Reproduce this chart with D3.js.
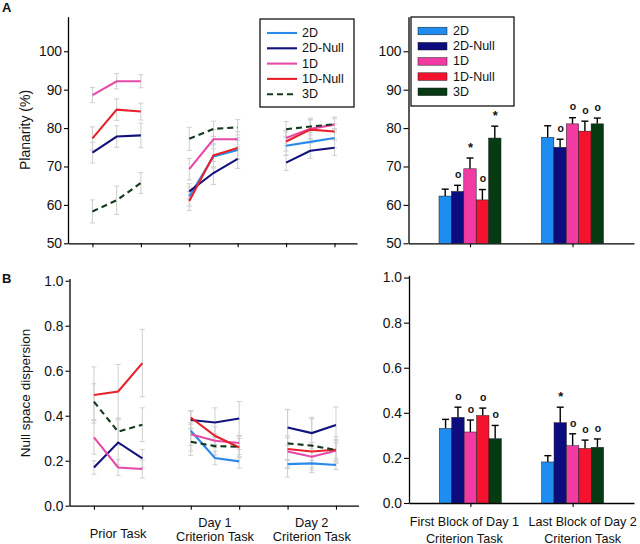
<!DOCTYPE html>
<html><head><meta charset="utf-8">
<script src="https://cdn.jsdelivr.net/npm/d3@7/dist/d3.min.js"></script>
<style>
body{margin:0;background:#fff}
svg text{font-family:"Liberation Sans",Arial,Helvetica,sans-serif;fill:#111}
</style>
</head><body>
<svg id="chart" width="640" height="544"></svg>
<script>
// ---------- data ----------
const seriesNames = ["2D", "2D-Null", "1D", "1D-Null", "3D"];
const barColors  = ["#1e8cf0", "#0c0c7e", "#f23aa3", "#f5122f", "#063a12"];
const lineColors = ["#2a8ae8", "#12127e", "#e64aa8", "#e8222c", "#163a1c"];
const phaseLabels = [["Prior Task"], ["Day 1", "Criterion Task"], ["Day 2", "Criterion Task"]];
const blockLabels = [["First Block of Day 1", "Criterion Task"], ["Last Block of Day 2", "Criterion Task"]];
const planarityTicks = [50, 60, 70, 80, 90, 100];
const dispersionTicks = [0, 0.2, 0.4, 0.6, 0.8, 1.0];
const phaseTickIdx = [0, 2, 4, 6, 8, 10];

// planarity (%) lines: 3 phases x 3 blocks (null = not shown)
const planarity2D     = [null, null, null, 62.2, 72.6, 74.3, 75.4, 76.4, 77.4];
const planarity2DNull = [73.6, 77.8, 78.1, 63.5, 68.3, 72.0, 71.0, 74.1, 74.9];
const planarity1D     = [88.6, 92.2, 92.2, 69.3, 77.1, 77.1, 77.4, 79.8, 80.9];
const planarity1DNull = [77.3, 84.8, 84.3, 61.0, 72.9, 74.8, 76.5, 79.6, 79.1];
const planarity3D     = [58.3, 61.2, 65.7, 77.2, 79.8, 80.2, 79.7, 80.4, 81.0];
const planarityErr2D     = [null, null, null, 2.5, 3.0, 2.5, 2.5, 2.5, 2.5];
const planarityErr2DNull = [2.7, 2.8, 3.2, 2.0, 3.0, 2.5, 2.0, 2.0, 2.0];
const planarityErr1D     = [2.0, 2.0, 1.7, 2.8, 2.5, 2.0, 2.0, 2.5, 2.0];
const planarityErr1DNull = [3.0, 2.8, 2.2, 2.5, 3.0, 2.7, 2.5, 2.5, 2.0];
const planarityErr3D     = [3.0, 3.7, 2.7, 3.0, 2.0, 2.0, 2.0, 2.2, 1.5];

// null space dispersion lines
const dispersion2D     = [null, null, null, 0.333, 0.212, 0.197, 0.185, 0.188, 0.181];
const dispersion2DNull = [0.170, 0.281, 0.210, 0.381, 0.370, 0.388, 0.348, 0.323, 0.359];
const dispersion1D     = [0.304, 0.170, 0.163, 0.318, 0.289, 0.279, 0.241, 0.218, 0.244];
const dispersion1DNull = [0.492, 0.508, 0.634, 0.392, 0.311, 0.259, 0.252, 0.241, 0.249];
const dispersion3D     = [0.462, 0.329, 0.360, 0.284, 0.265, 0.262, 0.277, 0.267, 0.248];
const dispersionErr2D     = [null, null, null, 0.09, 0.03, 0.03, 0.02, 0.03, 0.02];
const dispersionErr2DNull = [0.03, 0.10, 0.04, 0.04, 0.065, 0.075, 0.08, 0.07, 0.08];
const dispersionErr1D     = [0.075, 0.035, 0.04, 0.05, 0.03, 0.03, 0.07, 0.05, 0.05];
const dispersionErr1DNull = [0.125, 0.12, 0.15, 0.03, 0.04, 0.04, 0.05, 0.04, 0.04];
const dispersionErr3D     = [0.08, 0.06, 0.075, 0.06, 0.04, 0.05, 0.15, 0.12, 0.06];

// bar panels (first block of Day 1, last block of Day 2)
const planarityFirst    = [62.3, 63.5, 69.4, 61.3, 77.4];
const planarityLast     = [77.6, 75.0, 81.1, 79.2, 81.1];
const planarityFirstErr = [1.8, 1.6, 2.8, 2.7, 3.1];
const planarityLastErr  = [3.0, 2.1, 1.6, 2.6, 1.5];
const planarityFirstSig = ["", "o", "*", "o", "*"];
const planarityLastSig  = ["", "o", "o", "o", "o"];

const dispersionFirst    = [0.331, 0.380, 0.315, 0.388, 0.285];
const dispersionLast     = [0.182, 0.356, 0.254, 0.242, 0.247];
const dispersionFirstErr = [0.040, 0.045, 0.053, 0.033, 0.059];
const dispersionLastErr  = [0.028, 0.069, 0.053, 0.037, 0.037];
const dispersionFirstSig = ["", "o", "o", "o", "o"];
const dispersionLastSig  = ["", "*", "o", "o", "o"];

// ---------- drawing ----------
const svg = d3.select("#chart");
const FONT = "Liberation Sans, Arial, sans-serif";

function yAxis(g, scale, ticks, fmt, size) {
  g.call(d3.axisLeft(scale).tickValues(ticks).tickFormat(fmt).tickSize(size).tickSizeOuter(0).tickPadding(2));
  g.select(".domain").attr("stroke", "#000").attr("stroke-width", 1.3);
  g.selectAll(".tick line").attr("stroke", "#000").attr("stroke-width", 1.1);
  g.selectAll(".tick text").attr("font-size", 13.8).attr("font-family", FONT).attr("fill", "#111");
}
function xAxis(g, scale, ticks) {
  const ax = d3.axisBottom(scale).tickSize(4).tickSizeOuter(0).tickFormat("");
  if (ticks) ax.tickValues(ticks);
  g.call(ax);
  g.select(".domain").attr("stroke", "#000").attr("stroke-width", 1.3);
  g.selectAll(".tick line").attr("stroke", "#000").attr("stroke-width", 1.1);
}

function linePanel(opt) {
  const { x, y, series, errs, yTicks, fmt, axisY, left } = opt;
  const g = svg.append("g");
  g.append("g").attr("transform", `translate(${left},0)`).call(a => yAxis(a, y, yTicks, fmt, 4));
  g.append("g").attr("transform", `translate(0,${axisY})`).call(a => xAxis(a, x, phaseTickIdx));
  const pos = (i) => Math.floor(i / 3) * 4 + (i % 3);
  // error bars
  series.forEach((vals, s) => {
    vals.forEach((v, i) => {
      if (v == null) return;
      const e = errs[s][i], cx = x(pos(i));
      g.append("line").attr("x1", cx).attr("x2", cx).attr("y1", y(v - e)).attr("y2", y(v + e))
        .attr("stroke", "#cfcfcf").attr("stroke-width", 1);
      [v - e, v + e].forEach(t => g.append("line").attr("x1", cx - 2.5).attr("x2", cx + 2.5)
        .attr("y1", y(t)).attr("y2", y(t)).attr("stroke", "#cfcfcf").attr("stroke-width", 1));
    });
  });
  const line = d3.line().x(d => x(d.p)).y(d => y(d.v));
  series.forEach((vals, s) => {
    for (let p = 0; p < 3; p++) {
      const pts = [];
      for (let b = 0; b < 3; b++) {
        const v = vals[p * 3 + b];
        if (v != null) pts.push({ p: pos(p * 3 + b), v });
      }
      if (pts.length < 2) continue;
      g.append("path").attr("d", line(pts)).attr("fill", "none")
        .attr("stroke", lineColors[s]).attr("stroke-width", 2.1)
        .attr("stroke-dasharray", s === 4 ? "6,4" : null);
    }
  });
  return g;
}

function barPanel(opt) {
  const { y, groups, vals, errs, sigs, yTicks, fmt, axisY, left, right, base } = opt;
  const g = svg.append("g");
  const gx = d3.scalePoint().domain(groups).range([left, right]).padding(0.6);
  const inner = d3.scaleBand().domain(seriesNames).range([-31, 31]);
  g.append("g").attr("transform", `translate(${left},0)`).call(a => yAxis(a, y, yTicks, fmt, 5));
  g.append("g").attr("transform", `translate(0,${axisY})`).call(a => xAxis(a, gx));
  groups.forEach((grp, gi) => {
    seriesNames.forEach((s, si) => {
      const v = vals[gi][si], e = errs[gi][si];
      const x0 = gx(grp) + inner(s), w = inner.bandwidth(), cx = x0 + w / 2;
      g.append("line").attr("x1", cx).attr("x2", cx).attr("y1", y(v)).attr("y2", y(v + e))
        .attr("stroke", "#000").attr("stroke-width", 1.4);
      g.append("line").attr("x1", cx - 3.5).attr("x2", cx + 3.5).attr("y1", y(v + e)).attr("y2", y(v + e))
        .attr("stroke", "#000").attr("stroke-width", 1.4);
      g.append("rect").attr("x", x0).attr("width", w).attr("y", y(v)).attr("height", y(base) - y(v))
        .attr("fill", barColors[si]).attr("stroke", "#1a1a1a").attr("stroke-width", 0.5);
      const sig = sigs[gi][si];
      if (sig) {
        g.append("text").attr("x", cx + 0.5).attr("y", y(v + e) - (sig === "*" ? 6 : 10))
          .attr("text-anchor", "middle").attr("font-family", FONT)
          .attr("font-size", sig === "*" ? 13 : 10.5).attr("font-weight", "bold")
          .attr("dominant-baseline", sig === "*" ? "auto" : "middle")
          .text(sig);
      }
    });
  });
  return gx;
}

// ---- Panel A ----
const xTop = d3.scaleLinear().domain([-1.01, 10.93]).range([68, 357]);
const yTop = d3.scaleLinear().domain([50, 109]).range([243.3, 16.7]);
linePanel({
  x: xTop, y: yTop, axisY: 243.3, left: 68,
  series: [planarity2D, planarity2DNull, planarity1D, planarity1DNull, planarity3D],
  errs: [planarityErr2D, planarityErr2DNull, planarityErr1D, planarityErr1DNull, planarityErr3D],
  yTicks: planarityTicks, fmt: d3.format("d")
});
const yTopR = d3.scaleLinear().domain([50, 109]).range([243.3, 16.7]);
const groupsR = blockLabels.map(d => d.join(" "));
barPanel({
  y: yTopR, groups: groupsR, axisY: 243.3, left: 408.5, right: 634, base: 50,
  vals: [planarityFirst, planarityLast], errs: [planarityFirstErr, planarityLastErr],
  sigs: [planarityFirstSig, planarityLastSig], yTicks: planarityTicks, fmt: d3.format("d")
});

// ---- Panel B ----
const xBot = d3.scaleLinear().domain([-1.01, 10.93]).range([69.5, 358.5]);
const yBot = d3.scaleLinear().domain([0, 1.01]).range([505.7, 278.5]);
linePanel({
  x: xBot, y: yBot, axisY: 505.7, left: 69.5,
  series: [dispersion2D, dispersion2DNull, dispersion1D, dispersion1DNull, dispersion3D],
  errs: [dispersionErr2D, dispersionErr2DNull, dispersionErr1D, dispersionErr1DNull, dispersionErr3D],
  yTicks: dispersionTicks, fmt: d3.format(".1f")
});
const yBotR = d3.scaleLinear().domain([0, 1.01]).range([503, 275.3]);
const gxB = barPanel({
  y: yBotR, groups: groupsR, axisY: 503, left: 409, right: 634, base: 0,
  vals: [dispersionFirst, dispersionLast], errs: [dispersionFirstErr, dispersionLastErr],
  sigs: [dispersionFirstSig, dispersionLastSig], yTicks: dispersionTicks, fmt: d3.format(".1f")
});

// ---- axis titles ----
svg.append("text").attr("transform", "translate(30,130) rotate(-90)").attr("text-anchor", "middle")
  .attr("font-size", 14).text("Planarity (%)");
svg.append("text").attr("transform", "translate(30,393) rotate(-90)").attr("text-anchor", "middle")
  .attr("font-size", 13.5).text("Null space dispersion");

// x labels left (bottom)
phaseLabels.forEach((lines, p) => {
  const cx = xBot(p * 4 + 1);
  const t = svg.append("text").attr("text-anchor", "middle").attr("font-size", 12.8);
  if (lines.length === 1) {
    t.append("tspan").attr("x", cx).attr("y", 538).text(lines[0]);
  } else {
    t.append("tspan").attr("x", cx).attr("y", 527).text(lines[0]);
    t.append("tspan").attr("x", cx).attr("y", 541).text(lines[1]);
  }
});
// x labels right (bottom)
const labelShift = [-6, 10];
blockLabels.forEach((lines, gi) => {
  const cx = gxB(groupsR[gi]) + labelShift[gi];
  const t = svg.append("text").attr("text-anchor", "middle").attr("font-size", 12.6);
  t.append("tspan").attr("x", cx).attr("y", 526).text(lines[0]);
  t.append("tspan").attr("x", cx).attr("y", 542.5).text(lines[1]);
});

// panel letters
svg.append("text").attr("x", 2).attr("y", 12).attr("font-size", 13).attr("font-weight", "bold").text("A");
svg.append("text").attr("x", 2).attr("y", 283).attr("font-size", 13).attr("font-weight", "bold").text("B");

// ---- legends ----
const legL = svg.append("g");
legL.append("rect").attr("x", 260).attr("y", 19).attr("width", 94).attr("height", 88)
  .attr("fill", "#fff").attr("stroke", "#000").attr("stroke-width", 1.2);
seriesNames.forEach((s, i) => {
  const yy = 33 + i * 15.3;
  legL.append("line").attr("x1", 267).attr("x2", 297).attr("y1", yy).attr("y2", yy)
    .attr("stroke", lineColors[i]).attr("stroke-width", 2.1).attr("stroke-dasharray", i === 4 ? "6,4" : null);
  legL.append("text").attr("x", 302).attr("y", yy).attr("dominant-baseline", "central")
    .attr("font-size", 12.5).text(s);
});
const legR = svg.append("g");
legR.append("rect").attr("x", 411).attr("y", 17).attr("width", 103).attr("height", 89)
  .attr("fill", "#fff").attr("stroke", "#000").attr("stroke-width", 1.2);
seriesNames.forEach((s, i) => {
  const yy = 31 + i * 15.2;
  legR.append("rect").attr("x", 418).attr("y", yy - 3.8).attr("width", 29).attr("height", 7.6)
    .attr("fill", barColors[i]).attr("stroke", "#1a1a1a").attr("stroke-width", 0.5);
  legR.append("text").attr("x", 453).attr("y", yy).attr("dominant-baseline", "central")
    .attr("font-size", 12.5).text(s);
});
</script>
</body></html>
